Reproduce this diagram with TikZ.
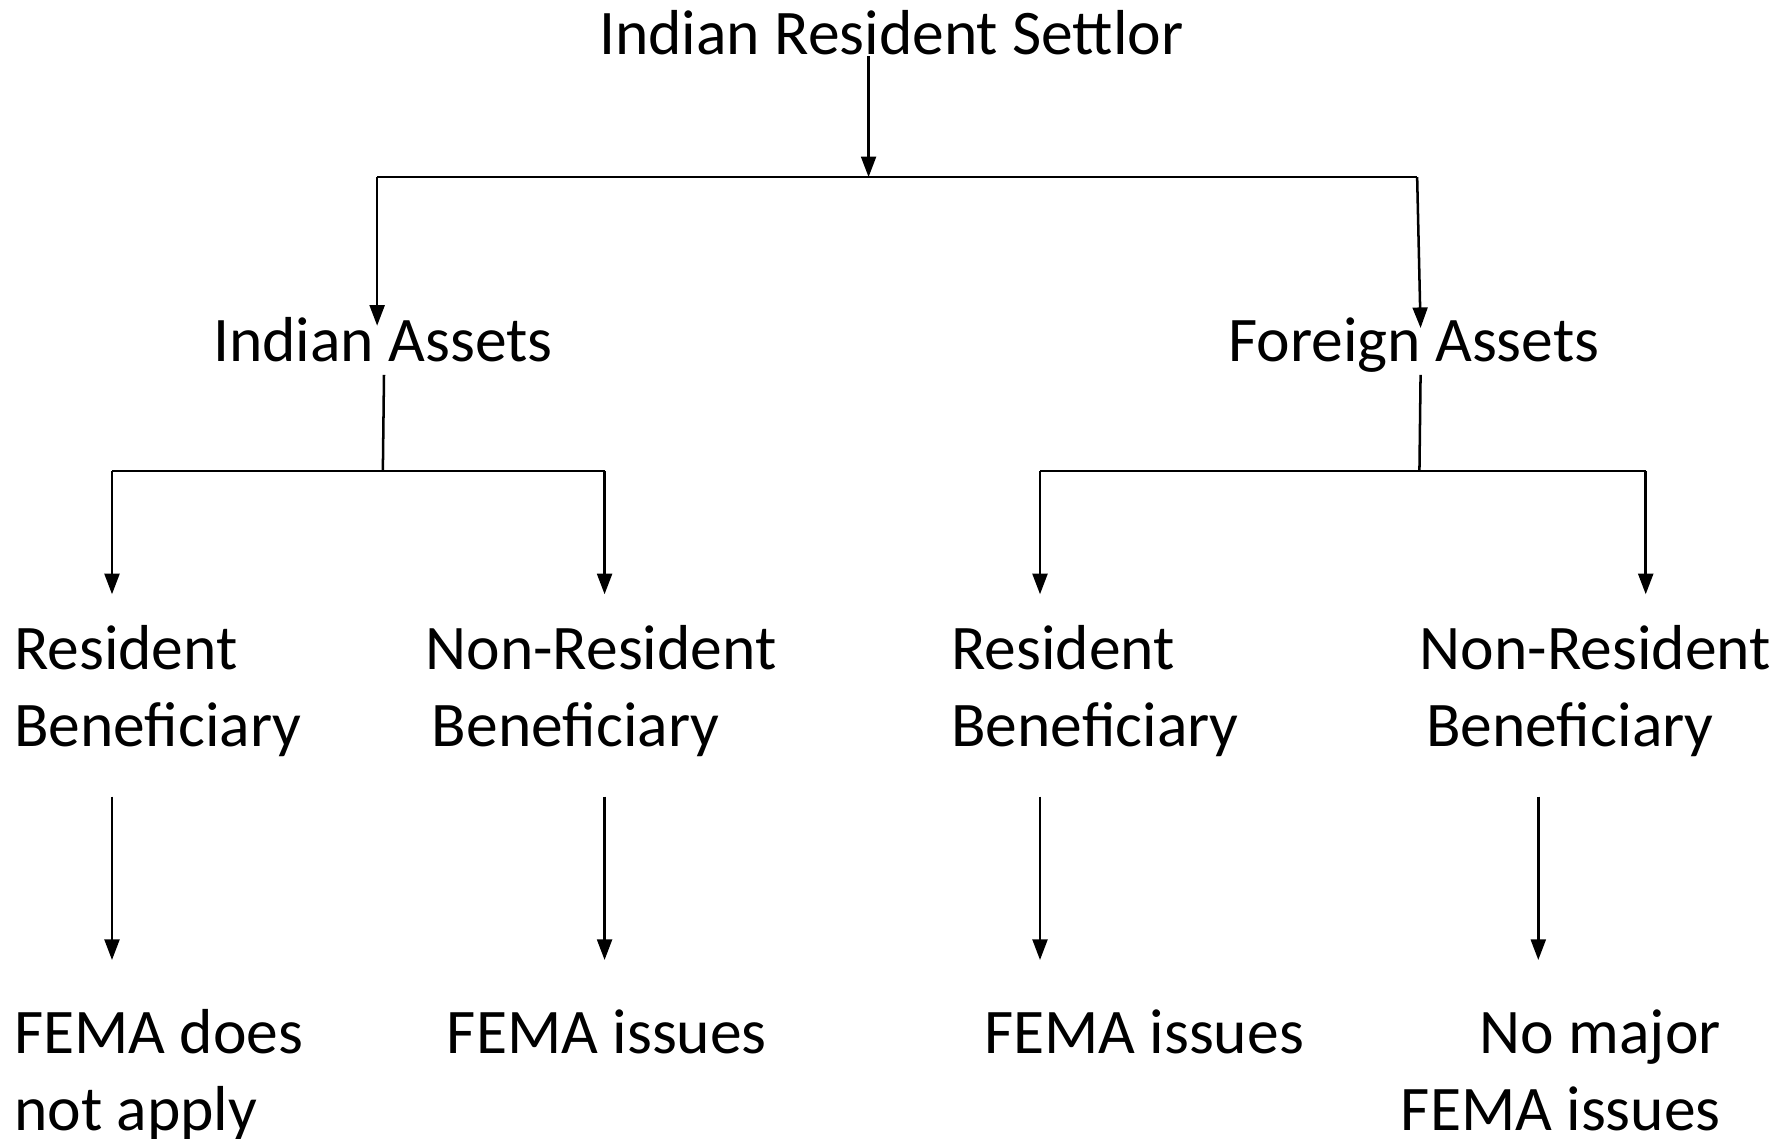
\documentclass[tikz,border=0pt]{standalone}
\usepackage{fontspec}
\setmainfont{Carlito}
\usetikzlibrary{arrows.meta}
\begin{document}
\begin{tikzpicture}[x=0.5pt,y=-0.5pt,
  lbl/.style={inner sep=0pt, font=\fontsize{27.8}{33.5}\selectfont},
  conn/.style={line width=1.1pt, draw=black},
  arr/.style={conn, -{Triangle[width=6.5pt,length=9pt]}}]
\useasboundingbox (0,0) rectangle (1568,996);
% texts (multi-line nodes: base = last line baseline)
\node[lbl, anchor=base] (title) at (780,48) {Indian Resident Settlor};
\node[lbl, anchor=base] (ia) at (335,316) {Indian Assets};
\node[lbl, anchor=base] (fa) at (1237,316) {Foreign Assets};
\node[lbl, anchor=base west, align=left] (rb1) at (12,653) {Resident\\Beneficiary};
\node[lbl, anchor=base west, align=left] (nrb1) at (372,653) {Non-Resident\\\hspace{0.1em}Beneficiary};
\node[lbl, anchor=base west, align=left] (rb2) at (832,653) {Resident\\Beneficiary};
\node[lbl, anchor=base west, align=left] (nrb2) at (1242,653) {Non-Resident\\\hspace{0.1em}Beneficiary};
\node[lbl, anchor=base west, align=left] (o1) at (12,989) {FEMA does\\not apply};
\node[lbl, anchor=base] (o2) at (531,922) {FEMA issues};
\node[lbl, anchor=base] (o3) at (1001,922) {FEMA issues};
\node[lbl, anchor=base east, align=right] (o4) at (1506,989) {No major\\FEMA issues};
% junctions and arrow ends
\coordinate (j1) at (760,155);
\coordinate (j1l) at (330,155);
\coordinate (j1r) at (1240,155);
\coordinate (iaTip) at (330,285);
\coordinate (faTip) at (1243,287);
\coordinate (iaOut) at (336,328);
\coordinate (faOut) at (1243,328);
\coordinate (j2) at (335,412);
\coordinate (j2l) at (98,412);
\coordinate (j2r) at (529,412);
\coordinate (j3) at (1242,412);
\coordinate (j3l) at (910,412);
\coordinate (j3r) at (1440,412);
\coordinate (rb1Tip) at (98,520);
\coordinate (nrb1Tip) at (529,520);
\coordinate (rb2Tip) at (910,520);
\coordinate (nrb2Tip) at (1440,520);
\coordinate (rb1Out) at (98,697);
\coordinate (nrb1Out) at (529,697);
\coordinate (rb2Out) at (910,697);
\coordinate (nrb2Out) at (1346,697);
\coordinate (o1Tip) at (98,840);
\coordinate (o2Tip) at (529,840);
\coordinate (o3Tip) at (910,840);
\coordinate (o4Tip) at (1346,840);
% connectors
\draw[arr] (title.south -| j1) -- (j1);
\draw[conn] (j1l) -- (j1r);
\draw[arr] (j1l) -- (iaTip);
\draw[arr] (j1r) -- (faTip);
\draw[conn] (iaOut) -- (j2);
\draw[conn] (j2l) -- (j2r);
\draw[conn] (faOut) -- (j3);
\draw[conn] (j3l) -- (j3r);
\draw[arr] (j2l) -- (rb1Tip);
\draw[arr] (j2r) -- (nrb1Tip);
\draw[arr] (j3l) -- (rb2Tip);
\draw[arr] (j3r) -- (nrb2Tip);
\draw[arr] (rb1Out) -- (o1Tip);
\draw[arr] (nrb1Out) -- (o2Tip);
\draw[arr] (rb2Out) -- (o3Tip);
\draw[arr] (nrb2Out) -- (o4Tip);
\end{tikzpicture}
\end{document}
